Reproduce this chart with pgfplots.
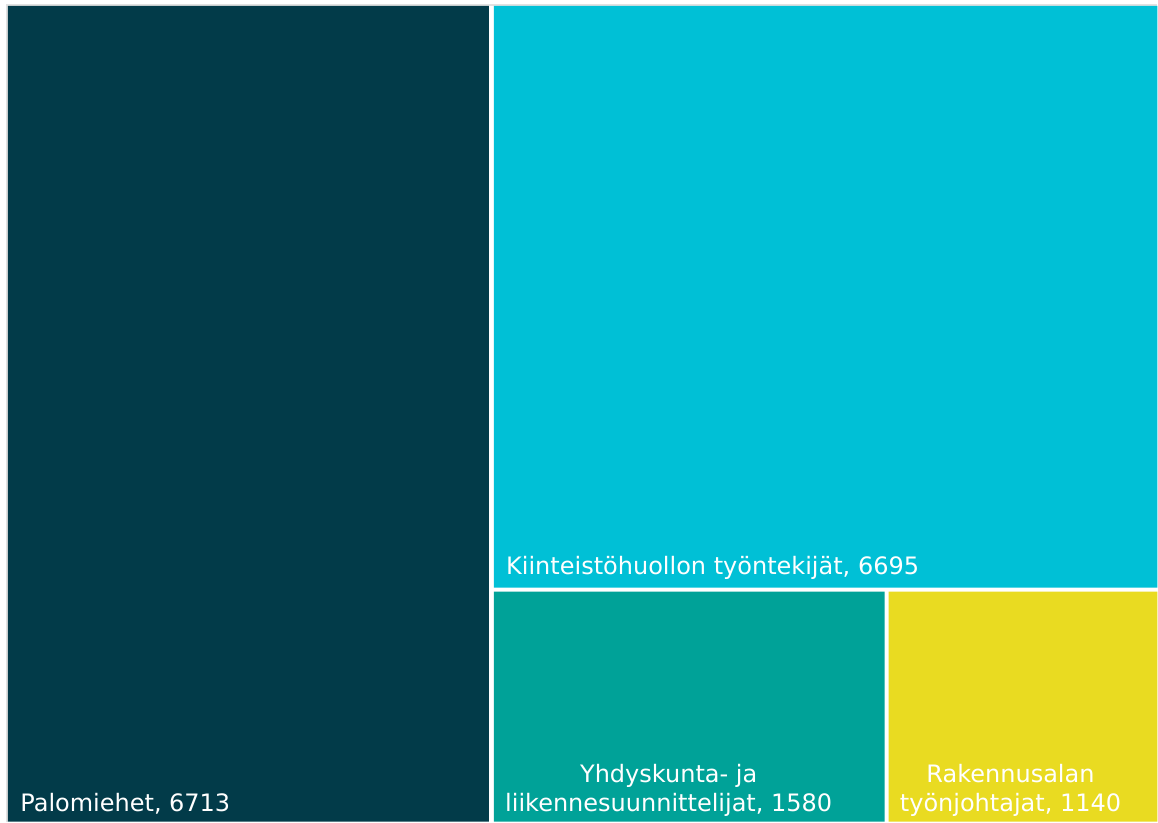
\documentclass[border=0pt]{standalone}
\usepackage{pgfplots}
\pgfplotsset{compat=1.18}
\usepackage{fontspec}
\setmainfont{DejaVu Sans}
\definecolor{cPalo}{RGB}{2,59,73}
\definecolor{cKiin}{RGB}{0,192,214}
\definecolor{cYhd}{RGB}{0,162,152}
\definecolor{cRak}{RGB}{233,219,33}
\definecolor{cEdge}{RGB}{225,225,225}
\begin{document}
% Values: Palomiehet 6713, Kiinteistöhuollon työntekijät 6695,
% Yhdyskunta- ja liikennesuunnittelijat 1580, Rakennusalan työnjohtajat 1140
\begin{tikzpicture}
\begin{axis}[
  width=579pt, height=411pt, scale only axis,
  xmin=0, xmax=1158, ymin=0, ymax=822, y dir=reverse,
  hide axis, clip=false,
]
\path[fill=white] (axis cs:0,0) rectangle (axis cs:1158,822);
\addplot[draw=cEdge, line width=0.6pt] coordinates {(7,822) (7,5) (1158,5)};
\addplot[fill=cPalo, draw=none] coordinates {(8,6) (489,6) (489,822) (8,822) (8,6)};
\addplot[fill=cKiin, draw=none] coordinates {(494,6) (1158,6) (1158,588) (494,588) (494,6)};
\addplot[fill=cYhd, draw=none] coordinates {(494,592) (885,592) (885,822) (494,822) (494,592)};
\addplot[fill=cRak, draw=none] coordinates {(889,592) (1158,592) (1158,822) (889,822) (889,592)};
\begin{scope}[every node/.style={text=white, font=\fontsize{12.0}{14.5}\selectfont, inner sep=0pt}]
\node[anchor=base west] at (axis cs:20,812) {Palomiehet, 6713};
\node[anchor=base west] at (axis cs:506,575) {Kiinteistöhuollon työntekijät, 6695};
\node[anchor=base] at (axis cs:669,783) {Yhdyskunta- ja};
\node[anchor=base] at (axis cs:669,812) {liikennesuunnittelijat, 1580};
\node[anchor=base] at (axis cs:1011,783) {Rakennusalan};
\node[anchor=base] at (axis cs:1011,812) {työnjohtajat, 1140};
\end{scope}
\end{axis}
\end{tikzpicture}
\end{document}
